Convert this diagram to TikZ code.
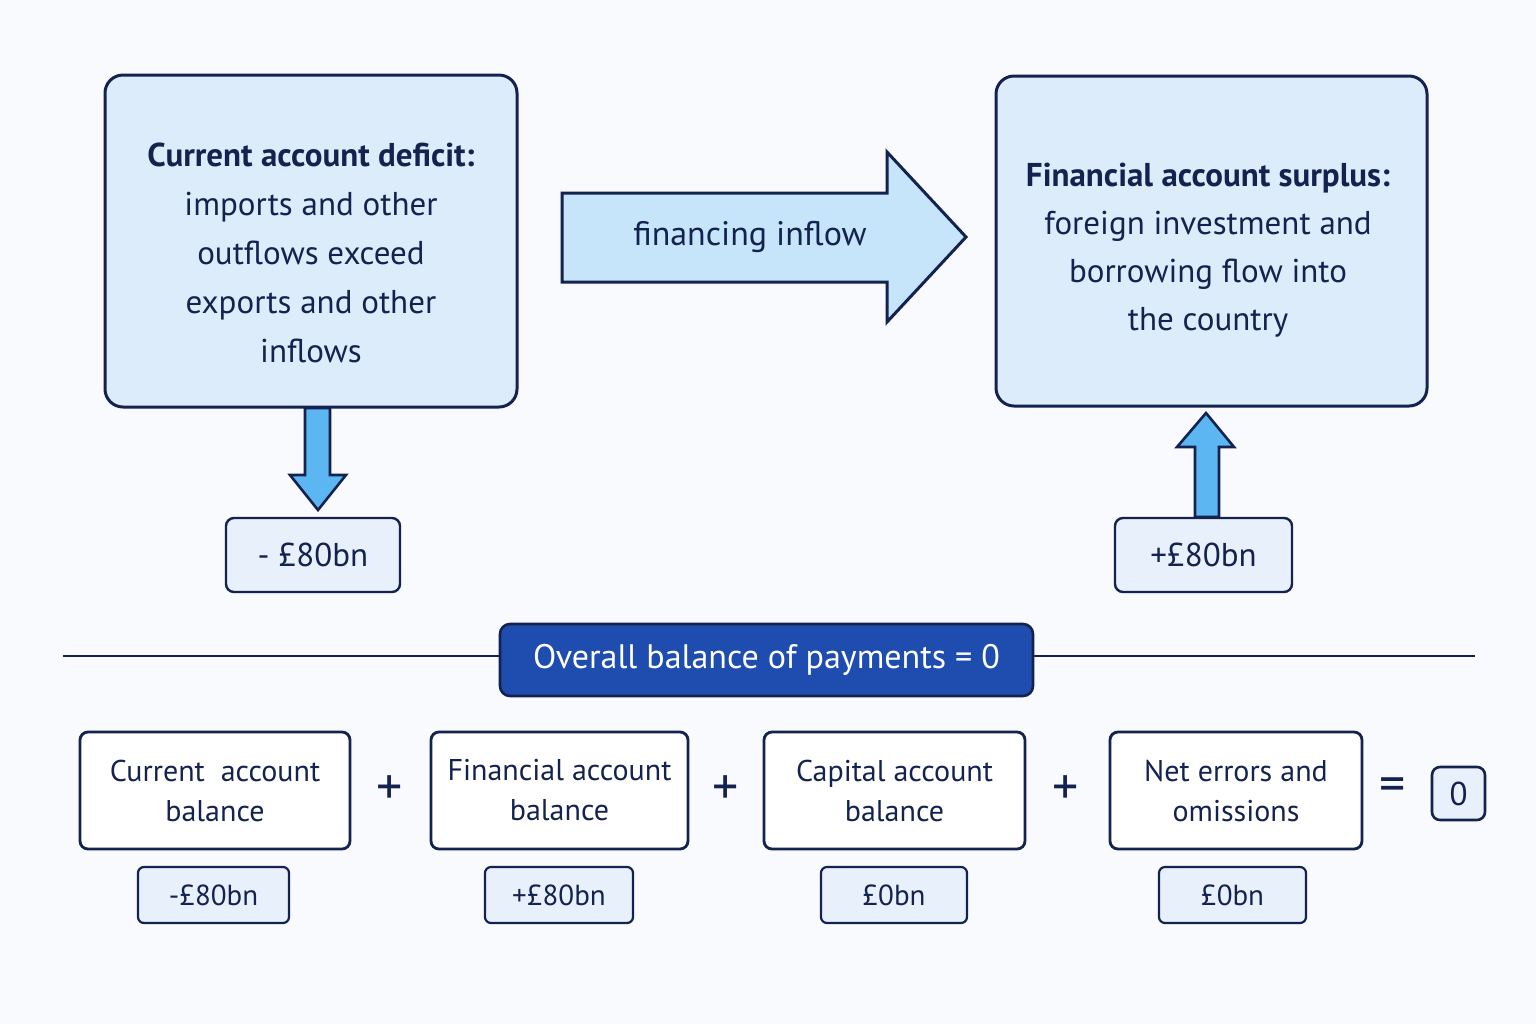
\documentclass[tikz,border=0pt]{standalone}
\usepackage{fontspec}
\setmainfont{PT Sans}
\definecolor{navy}{HTML}{14224F}
\definecolor{boxblue}{HTML}{DDECFB}
\definecolor{arrowblue}{HTML}{C6E4FA}
\definecolor{midblue}{HTML}{5CB6F2}
\definecolor{valblue}{HTML}{E8F0FB}
\definecolor{banner}{HTML}{1F4DAF}
\definecolor{bg}{HTML}{F8FAFD}
\begin{document}
\begin{tikzpicture}[x=0.5pt,y=-0.5pt,
  bigbox/.style={draw=navy,line width=1.5pt,rounded corners=9pt,fill=boxblue,align=center,inner sep=0pt},
  valbox/.style={draw=navy,line width=1.2pt,rounded corners=4pt,fill=valblue,font=\fontsize{16.5}{20}\selectfont,inner sep=0pt,text=navy},
  termbox/.style={draw=navy,line width=1.4pt,rounded corners=4pt,fill=white,align=center,font=\fontsize{15}{20}\selectfont,inner sep=0pt,text=navy},
  smallval/.style={draw=navy,line width=1.1pt,rounded corners=3pt,fill=valblue,font=\fontsize{14.5}{18}\selectfont,inner sep=0pt,text=navy},
  op/.style={font=\fontsize{26}{26}\selectfont,text=navy}]
\fill[bg] (0,0) rectangle (1536,1024);
\useasboundingbox (0,0) rectangle (1536,1024);
% top boxes
\node[bigbox,minimum width=206pt,minimum height=166pt] (ca) at (311,241) {};
\node[align=center,font=\fontsize{16.5}{24.5}\selectfont,text=navy] at (311,253) {\textbf{Current account deficit:}\\imports and other\\outflows exceed\\exports and other\\inflows};
\node[bigbox,minimum width=215.5pt,minimum height=165pt] (fa) at (1211.5,241) {};
\node[align=center,font=\fontsize{16.5}{24}\selectfont,text=navy] at (1208,250) {\textbf{Financial account surplus:}\\foreign investment and\\borrowing flow into\\the country};
% big arrow
\draw[navy,line width=1.5pt,fill=arrowblue,line join=miter] (562,193)--(887,193)--(887,152)--(966,237)--(887,322)--(887,282)--(562,282)--cycle;
\node[font=\fontsize{17}{20}\selectfont,text=navy] (fin) at (750,237) {financing inflow};
% value boxes top
\node[valbox,minimum width=87pt,minimum height=37pt] (v1) at (313,555) {- £80bn};
\node[valbox,minimum width=88.5pt,minimum height=37pt] (v2) at (1203.5,555) {+£80bn};
% small arrows
\draw[navy,line width=1.3pt,fill=midblue] (305,408)--(330,408)--(330,475)--(346,475)--(318,510)--(290,475)--(305,475)--cycle;
\draw[navy,line width=1.3pt,fill=midblue] (1195,517)--(1219,517)--(1219,447)--(1234,447)--(1206,413)--(1177,447)--(1195,447)--cycle;
% separator
\coordinate (l1) at (63,656); \coordinate (l2) at (1475,656);
\draw[navy,line width=1.3pt] (l1)--(l2);
\node[draw=navy,line width=1.3pt,fill=banner,rounded corners=5pt,minimum width=266.5pt,minimum height=36pt,text=white,font=\fontsize{17}{20}\selectfont,inner sep=0pt] (ob) at (766.5,660) {Overall balance of payments = 0};
% terms
\node[termbox,minimum width=135pt,minimum height=58.5pt] (t1) at (215,790.5) {Current\ \ account\\balance};
\node[termbox,minimum width=128.5pt,minimum height=58.5pt] (t2) at (559.5,790.5) {Financial account\\balance};
\node[termbox,minimum width=130.5pt,minimum height=58.5pt] (t3) at (894.5,790.5) {Capital account\\balance};
\node[termbox,minimum width=126pt,minimum height=58.5pt] (t4) at (1236,790.5) {Net errors and\\omissions};
\node[op] (p1) at (390,790) {+};
\node[op] (p2) at (726,790) {+};
\node[op] (p3) at (1066,790) {+};
\node[op] (eq) at (1393,790) {=};
\node[draw=navy,line width=1.3pt,rounded corners=4pt,fill=valblue,minimum width=26.5pt,minimum height=26.5pt,font=\fontsize{16.5}{20}\selectfont,inner sep=0pt,text=navy] (z) at (1458.5,793.5) {0};
\node[smallval,minimum width=75.5pt,minimum height=28pt] (s1) at (213.5,895) {-£80bn};
\node[smallval,minimum width=74pt,minimum height=28pt] (s2) at (559,895) {+£80bn};
\node[smallval,minimum width=73pt,minimum height=28pt] (s3) at (894,895) {£0bn};
\node[smallval,minimum width=73.5pt,minimum height=28pt] (s4) at (1232.5,895) {£0bn};
\end{tikzpicture}
\end{document}
